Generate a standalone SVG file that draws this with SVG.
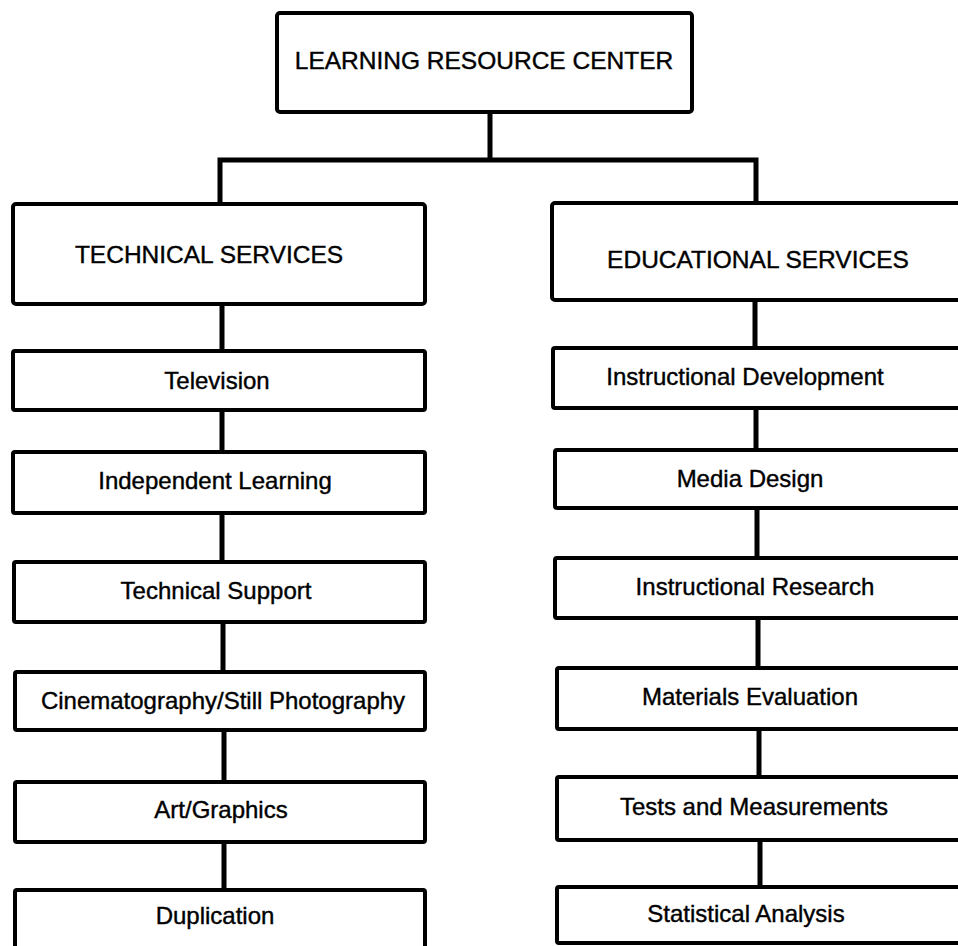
<svg xmlns="http://www.w3.org/2000/svg" width="958" height="946" viewBox="0 0 958 946">
<style>
.box{fill:#fff;stroke:#000;stroke-width:4}
.con{fill:none;stroke:#000;stroke-width:5;stroke-linecap:square}
.big{font-family:"Liberation Sans",Arial,sans-serif;font-size:24.5px;fill:#000;stroke:#000;stroke-width:0.4;text-anchor:middle}
.sm{font-family:"Liberation Sans",Arial,sans-serif;font-size:24px;fill:#000;stroke:#000;stroke-width:0.4;text-anchor:middle}
</style>
<rect width="958" height="946" fill="#fff"/>
<g id="connectors">
<path class="con" d="M490,112 V160 M220,160 H756 M220,160 V204 M756,160 V203"/>
<path class="con" d="M222,304 V351 M222,410 V452 M222,513 V562 M223,622 V672 M224,730 V782 M224,842 V890"/>
<path class="con" d="M755,300 V348 M756,408 V450 M757,508 V558 M758,618 V668 M759,729 V777 M760,840 V887"/>
</g>
<g id="lrc"><rect class="box" x="277" y="13" width="415" height="99" rx="3"/><text class="big" x="484" y="69">LEARNING RESOURCE CENTER</text></g>
<g id="technical-services"><rect class="box" x="13" y="204" width="412" height="100" rx="3"/><text class="big" x="209" y="263">TECHNICAL SERVICES</text></g>
<g id="educational-services"><rect class="box" x="552" y="203" width="420" height="97" rx="3"/><text class="big" x="758" y="268">EDUCATIONAL SERVICES</text></g>
<g id="television"><rect class="box" x="13" y="351" width="412" height="59" rx="2"/><text class="sm" x="217" y="389">Television</text></g>
<g id="independent-learning"><rect class="box" x="13" y="452" width="412" height="61" rx="2"/><text class="sm" x="215" y="489">Independent Learning</text></g>
<g id="technical-support"><rect class="box" x="14" y="562" width="411" height="60" rx="2"/><text class="sm" x="216" y="599">Technical Support</text></g>
<g id="cinematography"><rect class="box" x="15" y="672" width="410" height="58" rx="2"/><text class="sm" x="223" y="709">Cinematography/Still Photography</text></g>
<g id="art-graphics"><rect class="box" x="15" y="782" width="410" height="60" rx="2"/><text class="sm" x="221" y="818">Art/Graphics</text></g>
<g id="duplication"><rect class="box" x="15" y="890" width="410" height="58" rx="2"/><text class="sm" x="215" y="924">Duplication</text></g>
<g id="instructional-development"><rect class="box" x="553" y="348" width="420" height="60" rx="2"/><text class="sm" x="745" y="385">Instructional Development</text></g>
<g id="media-design"><rect class="box" x="555" y="450" width="418" height="58" rx="2"/><text class="sm" x="750" y="487">Media Design</text></g>
<g id="instructional-research"><rect class="box" x="555" y="558" width="418" height="60" rx="2"/><text class="sm" x="755" y="595">Instructional Research</text></g>
<g id="materials-evaluation"><rect class="box" x="557" y="668" width="416" height="61" rx="2"/><text class="sm" x="750" y="705">Materials Evaluation</text></g>
<g id="tests-and-measurements"><rect class="box" x="557" y="777" width="416" height="63" rx="2"/><text class="sm" x="754" y="815">Tests and Measurements</text></g>
<g id="statistical-analysis"><rect class="box" x="557" y="887" width="416" height="56" rx="2"/><text class="sm" x="746" y="922">Statistical Analysis</text></g>
</svg>
